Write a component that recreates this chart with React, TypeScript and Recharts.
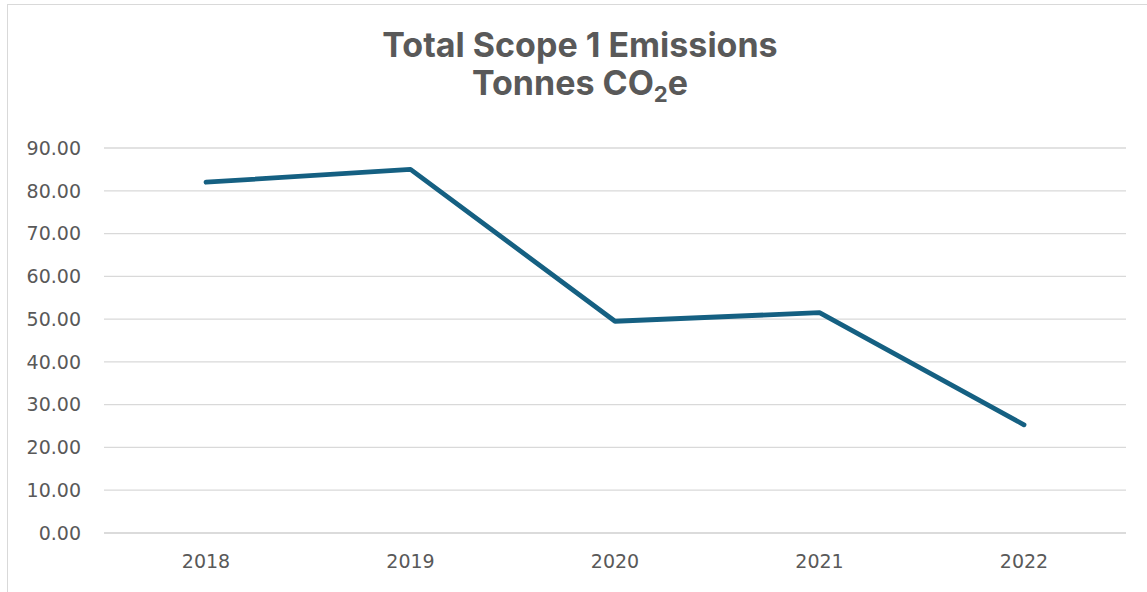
import { LineChart, Line, XAxis, YAxis, CartesianGrid } from 'recharts'

const years = ['2018', '2019', '2020', '2021', '2022']
const emissions = [82.0, 85.0, 49.5, 51.5, 25.3]
const yTicks = [0, 10, 20, 30, 40, 50, 60, 70, 80, 90]

const data = years.map((year, i) => ({ year, value: emissions[i] }))

const tickStyle = { fill: '#595959', fontSize: 19, fontFamily: 'DejaVu Sans' }

export default function App() {
  return (
    <div
      style={{
        position: 'absolute',
        left: 0,
        top: 0,
        width: 1147,
        height: 592,
        overflow: 'hidden',
        background: '#fff',
      }}
    >
      <div
        style={{
          position: 'absolute',
          left: 7,
          top: 4,
          width: 1146,
          height: 600,
          borderLeft: '1px solid #d9d9d9',
          borderTop: '1px solid #d9d9d9',
          borderRight: '1px solid #d9d9d9',
          boxSizing: 'border-box',
        }}
      />
      <div
        style={{
          position: 'absolute',
          left: 7,
          top: 26,
          width: 1146,
          textAlign: 'center',
          fontFamily: 'Inter, sans-serif',
          fontWeight: 700,
          fontSize: 34,
          lineHeight: '38px',
          color: '#595959',
        }}
      >
        <div>Total Scope 1 Emissions</div>
        <div>
          Tonnes CO
          <span style={{ fontSize: '0.65em', position: 'relative', top: '0.3em', lineHeight: 0 }}>2</span>e
        </div>
      </div>
      <div style={{ position: 'absolute', left: 7, top: 4 }}>
        <LineChart
          width={1140}
          height={588}
          data={data}
          margin={{ top: 144, right: 21, bottom: 0, left: 0 }}
        >
          <CartesianGrid vertical={false} stroke="#d9d9d9" strokeWidth={1.3} />
          <XAxis
            dataKey="year"
            height={59}
            padding={{ left: 102, right: 102 }}
            tick={tickStyle}
            tickLine={false}
            tickSize={0}
            tickMargin={22}
            axisLine={{ stroke: '#d9d9d9', strokeWidth: 1.3 }}
            interval={0}
          />
          <YAxis
            width={97}
            domain={[0, 90]}
            ticks={yTicks}
            tick={tickStyle}
            tickLine={false}
            tickSize={0}
            tickMargin={23}
            axisLine={false}
            tickFormatter={(v: number) => v.toFixed(2)}
          />
          <Line
            dataKey="value"
            stroke="#156082"
            strokeWidth={4.8}
            strokeLinecap="round"
            strokeLinejoin="round"
            dot={false}
            activeDot={false}
            isAnimationActive={false}
          />
        </LineChart>
      </div>
    </div>
  )
}
